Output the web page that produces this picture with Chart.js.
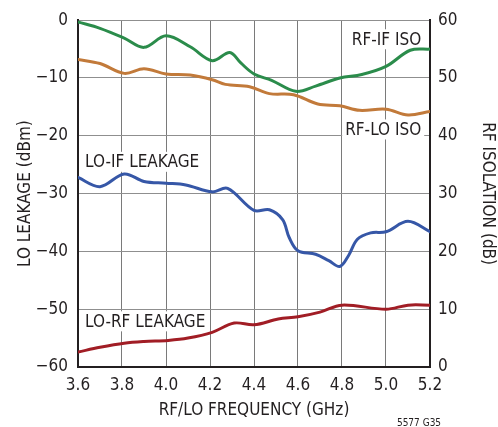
<!DOCTYPE html>
<html>
<head>
<meta charset="utf-8">
<script src="https://cdn.jsdelivr.net/npm/chart.js@4"></script>
<style>
html,body{margin:0;padding:0;background:#fff;}
#wrap{width:498px;height:427px;position:relative;}
</style>
</head>
<body>
<div id="wrap"><canvas id="c" width="498" height="427"></canvas></div>
<script>
// ---- data ----
const rfIfFreq = [3.60,3.70,3.81,3.90,4.00,4.11,4.21,4.29,4.34,4.40,4.48,4.59,4.68,4.79,4.89,5.00,5.11,5.20];
const rfIfIso  = [59.7,58.6,56.9,55.3,57.3,55.4,53.0,54.4,52.6,50.7,49.6,47.7,48.6,50.0,50.6,52.0,54.8,55.0];

const rfLoFreq = [3.60,3.70,3.81,3.90,4.00,4.11,4.21,4.27,4.38,4.47,4.58,4.69,4.79,4.88,5.00,5.10,5.20];
const rfLoIso  = [53.2,52.5,50.8,51.6,50.7,50.5,49.7,48.9,48.5,47.3,47.1,45.5,45.2,44.4,44.6,43.6,44.2];

const loIfFreq = [3.60,3.70,3.81,3.90,4.00,4.09,4.21,4.28,4.40,4.47,4.53,4.56,4.60,4.68,4.74,4.79,4.83,4.87,4.93,5.00,5.10,5.20];
const loIfLeak = [-27.2,-28.8,-26.6,-27.9,-28.2,-28.5,-29.7,-29.1,-32.9,-32.8,-34.5,-37.6,-39.9,-40.5,-41.6,-42.6,-40.7,-37.9,-36.8,-36.6,-34.8,-36.6];

const loRfFreq = [3.60,3.70,3.81,3.90,4.01,4.10,4.21,4.31,4.40,4.51,4.60,4.70,4.80,5.00,5.10,5.20];
const loRfLeak = [-57.4,-56.6,-55.9,-55.6,-55.4,-55.0,-54.0,-52.4,-52.7,-51.7,-51.3,-50.5,-49.3,-50.0,-49.3,-49.3];

const xTicks = [3.6,3.8,4.0,4.2,4.4,4.6,4.8,5.0,5.2];
const leftTicks = [-60,-50,-40,-30,-20,-10,0];
const rightTicks = [0,10,20,30,40,50,60];

// label anchors in data units (x GHz, y dBm on left axis)
const labelTexts  = ['RF-IF ISO','RF-LO ISO','LO-IF LEAKAGE','LO-RF LEAKAGE'];
const labelX      = [5.16, 5.16, 3.632, 3.632];
const labelY      = [-3.3, -18.9, -24.5, -52.1];
const labelAlign  = ['right','right','left','left'];

const FONT = '"Liberation Sans Narrow","DejaVu Sans Condensed","Roboto Condensed",Arial,sans-serif';
const FS = 17;

function pts(xs, ys){ return xs.map((x,i)=>({x:x,y:ys[i]})); }

const labelPlugin = {
  id:'labels',
  beforeDatasetsDraw(chart){
    const ctx = chart.ctx, xs = chart.scales.x, ys = chart.scales.y;
    ctx.save();
    ctx.font = FS + 'px ' + FONT;
    ctx.textBaseline = 'middle';
    labelTexts.forEach((t,i)=>{
      const px = xs.getPixelForValue(labelX[i]);
      const py = ys.getPixelForValue(labelY[i]);
      const w = ctx.measureText(t).width;
      const left = labelAlign[i]==='right' ? px - w : px;
      ctx.fillStyle = '#fff';
      ctx.fillRect(left-3, py-10, w+6, 20);
      ctx.fillStyle = '#231f20';
      ctx.textAlign = labelAlign[i];
      ctx.fillText(t, px, py+1);
    });
    ctx.restore();
  },
  afterDraw(chart){
    const ctx = chart.ctx;
    ctx.save();
    ctx.font = '10px ' + FONT;
    ctx.fillStyle = '#231f20';
    ctx.textAlign = 'center';
    ctx.textBaseline = 'middle';
    ctx.fillText('5577 G35', 419, 423);
    ctx.restore();
  }
};

const bgPlugin = {
  id:'bg',
  beforeDraw(chart){
    const ctx = chart.ctx; ctx.save(); ctx.fillStyle='#fff';
    ctx.fillRect(0,0,chart.width,chart.height); ctx.restore();
  }
};

const lineDs = (label, data, color, axis) => ({
  label, data, borderColor: color, backgroundColor: color, borderWidth: 3,
  pointRadius: 0, tension: 0.35, cubicInterpolationMode: 'default', yAxisID: axis, fill:false,
  borderCapStyle: 'round', borderJoinStyle: 'round'
});

Chart.defaults.font.family = FONT;
Chart.defaults.color = '#231f20';

new Chart(document.getElementById('c'), {
  type: 'line',
  data: {
    datasets: [
      lineDs('RF-IF ISO', pts(rfIfFreq, rfIfIso), '#2b8c4b', 'y2'),
      lineDs('RF-LO ISO', pts(rfLoFreq, rfLoIso), '#c27a3a', 'y2'),
      lineDs('LO-IF LEAKAGE', pts(loIfFreq, loIfLeak), '#3657a7', 'y'),
      lineDs('LO-RF LEAKAGE', pts(loRfFreq, loRfLeak), '#a11d25', 'y')
    ]
  },
  options: {
    responsive: false,
    animation: false,
    devicePixelRatio: 1,
    layout: { padding: { top: 15, left: 0, right: 0, bottom: 0 } },
    plugins: { legend: { display: false }, tooltip: { enabled: false } },
    scales: {
      x: {
        type: 'linear', min: 3.6, max: 5.2,
        afterBuildTicks(s){ s.ticks = xTicks.map(v=>({value:v})); },
        afterFit(s){ s.height = 60; },
        ticks: { font:{size:FS}, padding: 8, maxRotation:0, autoSkip:false,
                 callback: v => Number(v).toFixed(1) },
        grid: { color:'#7a7a7a', lineWidth:1, drawTicks:false },
        border: { color:'#231f20', width:2 },
        title: { display:true, text:'RF/LO FREQUENCY (GHz)', font:{size:FS}, padding:{top:0,bottom:6} }
      },
      y: {
        position:'left', min:-60, max:0,
        afterBuildTicks(s){ s.ticks = leftTicks.map(v=>({value:v})); },
        afterFit(s){ s.width = 78; },
        ticks: { font:{size:FS}, padding: 10,
                 callback: v => v < 0 ? '\u2212' + Math.abs(v) : String(v) },
        grid: { color:'#8f8f8f', lineWidth:1, drawTicks:false },
        border: { color:'#231f20', width:2 },
        title: { display:true, text:'LO LEAKAGE (dBm)', font:{size:FS}, padding:{top:15,bottom:0} }
      },
      y2: {
        position:'right', min:0, max:60,
        afterBuildTicks(s){ s.ticks = rightTicks.map(v=>({value:v})); },
        afterFit(s){ s.width = 68; },
        ticks: { font:{size:FS}, padding: 8 },
        grid: { display:false, drawTicks:false },
        border: { color:'#231f20', width:2 },
        title: { display:true, text:'RF ISOLATION (dB)', font:{size:FS}, padding:{top:0,bottom:17} }
      }
    }
  },
  plugins: [bgPlugin, labelPlugin]
});
</script>
</body>
</html>
